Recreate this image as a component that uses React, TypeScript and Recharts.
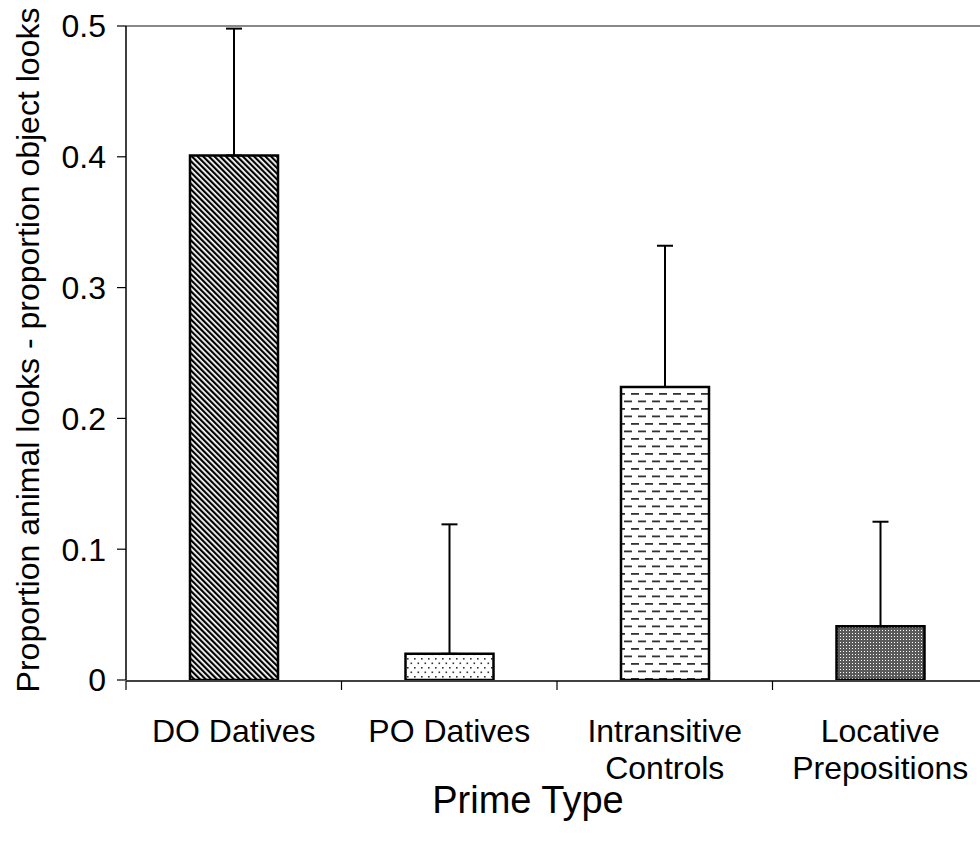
import { BarChart, Bar, XAxis, YAxis, ErrorBar, ReferenceLine, Cell } from 'recharts';

const categories = ['DO Datives', 'PO Datives', 'Intransitive Controls', 'Locative Prepositions'];
const tickLines = [['DO Datives'], ['PO Datives'], ['Intransitive', 'Controls'], ['Locative', 'Prepositions']];
const means = [0.401, 0.02, 0.224, 0.041];
const upperErrors = [0.097, 0.099, 0.108, 0.08];
const patternIds = ['diag', 'dots', 'dashes', 'check'];
const yTicks = [0, 0.1, 0.2, 0.3, 0.4, 0.5];
const edgeTicks = [0, 1, 2, 3, 4];

const FONT = '"Liberation Sans", Arial, sans-serif';

const data = categories.map((name, i) => ({
  name,
  idx: i,
  value: means[i],
  err: [0, upperErrors[i]],
}));

// multi-line category labels under the axis
function CategoryTick(props: any) {
  const { x, y, index } = props;
  const lines = tickLines[index] ?? [];
  return (
    <g>
      {lines.map((line, i) => (
        <text
          key={line}
          x={x}
          y={y + 54 + i * 37}
          textAnchor="middle"
          fontFamily={FONT}
          fontSize={32}
          fill="#000"
        >
          {line}
        </text>
      ))}
    </g>
  );
}

export default function App() {
  return (
    <div style={{ position: 'absolute', left: 0, top: 0, width: 980, height: 846, overflow: 'hidden', background: '#fff' }}>
      <BarChart
        width={1000}
        height={846}
        data={data}
        margin={{ top: 26, right: 12, bottom: 0, left: 0 }}
        barCategoryGap={0}
      >
        <defs>
          <pattern id="diag" width="4" height="4" patternUnits="userSpaceOnUse" patternTransform="rotate(-45)">
            <rect width="4" height="4" fill="#fff" />
            <rect width="2.2" height="4" fill="#000" />
          </pattern>
          <pattern id="dots" width="7" height="9" patternUnits="userSpaceOnUse">
            <rect width="7" height="9" fill="#fff" />
            <rect x="1" y="1" width="1.6" height="1.6" fill="#333" />
            <rect x="4.5" y="5.5" width="1.6" height="1.6" fill="#333" />
          </pattern>
          <pattern id="dashes" width="14" height="15" patternUnits="userSpaceOnUse">
            <rect width="14" height="15" fill="#fff" />
            <rect x="1" y="3" width="8" height="1.8" fill="#333" />
            <rect x="8" y="10.5" width="8" height="1.8" fill="#333" />
            <rect x="-6" y="10.5" width="8" height="1.8" fill="#333" />
          </pattern>
          <pattern id="check" width="3" height="3" patternUnits="userSpaceOnUse">
            <rect width="3" height="3" fill="#5a5a5a" />
            <rect x="0" y="0" width="1" height="1" fill="#fff" />
          </pattern>
        </defs>
        <XAxis
          dataKey="name"
          height={1}
          axisLine={false}
          tickLine={false}
          interval={0}
          tick={<CategoryTick />}
          label={() => (
            <text x={528} y={813} textAnchor="middle" fontFamily={FONT} fontSize={38} fill="#000">
              Prime Type
            </text>
          )}
        />
        <XAxis
          xAxisId="edges"
          type="number"
          dataKey="idx"
          domain={[0, 4]}
          ticks={edgeTicks}
          interval={0}
          allowDataOverflow
          height={165}
          tickFormatter={() => ''}
          tickSize={9}
          tickLine={{ stroke: '#000', strokeWidth: 1.2 }}
          axisLine={{ stroke: '#000', strokeWidth: 1.5 }}
        />
        <YAxis
          width={126}
          domain={[0, 0.5]}
          ticks={yTicks}
          allowDataOverflow
          tickSize={9}
          tickMargin={11}
          tickFormatter={(v: number) => (v === 0 ? '0' : v.toFixed(1))}
          tick={{ fill: '#000', fontSize: 32, fontFamily: FONT }}
          tickLine={{ stroke: '#000', strokeWidth: 1.2 }}
          axisLine={{ stroke: '#000', strokeWidth: 1.5 }}
          label={() => (
            <text
              transform="translate(28,350) rotate(-90)"
              textAnchor="middle"
              dominantBaseline="central"
              fontFamily={FONT}
              fontSize={32}
              fill="#000"
            >
              Proportion animal looks - proportion object looks
            </text>
          )}
        />
        <ReferenceLine y={0.5} stroke="#888" strokeWidth={2} />
        <Bar dataKey="value" barSize={88} stroke="#000" strokeWidth={2.5} isAnimationActive={false}>
          {data.map((d, i) => (
            <Cell key={d.name} fill={`url(#${patternIds[i]})`} />
          ))}
          <ErrorBar dataKey="err" direction="y" width={8} stroke="#000" strokeWidth={2} />
        </Bar>
      </BarChart>
    </div>
  );
}
